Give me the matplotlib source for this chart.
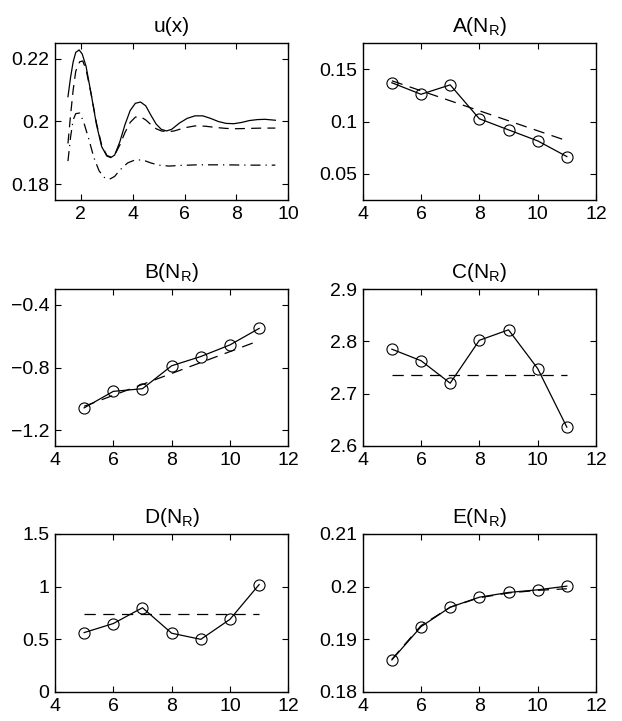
import matplotlib.pyplot as plt

plt.rcParams["font.family"] = ["Liberation Sans", "DejaVu Sans"]
plt.rcParams["mathtext.fontset"] = "custom"
plt.rcParams["mathtext.rm"] = "Liberation Sans"
plt.rcParams["font.size"] = 14

# u(x) curves
ux_solid_x = [1.5, 1.6, 1.7, 1.8, 1.93, 2.05, 2.2, 2.4, 2.6, 2.8, 3.0, 3.15, 3.3, 3.5,
              3.7, 3.9, 4.1, 4.3, 4.5, 4.7, 4.9, 5.1, 5.3, 5.5, 5.8, 6.1, 6.4, 6.7,
              7.0, 7.3, 7.6, 7.9, 8.2, 8.5, 8.8, 9.1, 9.5]
ux_solid_y = [0.2079, 0.2140, 0.2190, 0.2220, 0.2228, 0.2215, 0.2175, 0.2085, 0.1990,
              0.1920, 0.1890, 0.1885, 0.1893, 0.1935, 0.1990, 0.2035, 0.2058, 0.2062,
              0.2050, 0.2020, 0.1992, 0.1975, 0.1970, 0.1975, 0.1995, 0.2010, 0.2018,
              0.2018, 0.2010, 0.2000, 0.1994, 0.1993, 0.1997, 0.2003, 0.2006, 0.2007,
              0.2004]
ux_dash_x = [1.5, 1.6, 1.7, 1.8, 1.95, 2.07, 2.2, 2.4, 2.6, 2.8, 3.0, 3.15, 3.3, 3.5,
             3.7, 3.9, 4.1, 4.3, 4.5, 4.7, 4.9, 5.1, 5.35, 5.6, 6.0, 6.4, 6.8, 7.2,
             7.6, 8.0, 8.5, 9.0, 9.5]
ux_dash_y = [0.1930, 0.2020, 0.2100, 0.2160, 0.2190, 0.2193, 0.2165, 0.2085, 0.1995,
             0.1925, 0.1892, 0.1887, 0.1893, 0.1925, 0.1965, 0.1997, 0.2014, 0.2015,
             0.2005, 0.1990, 0.1977, 0.1970, 0.1967, 0.1970, 0.1980, 0.1986, 0.1985,
             0.1981, 0.1978, 0.1977, 0.1978, 0.1979, 0.1979]
ux_dashdot_x = [1.5, 1.6, 1.7, 1.8, 1.95, 2.1, 2.3, 2.5, 2.7, 2.9, 3.1, 3.3, 3.5, 3.8,
                4.1, 4.4, 4.7, 5.0, 5.4, 5.8, 6.5, 7.5, 8.5, 9.5]
ux_dashdot_y = [0.1874, 0.1950, 0.2005, 0.2025, 0.2027, 0.2000, 0.1945, 0.1885, 0.1843,
                0.1822, 0.1816, 0.1825, 0.1845, 0.1868, 0.1878, 0.1877, 0.1868, 0.1861,
                0.1858, 0.1860, 0.1862, 0.1862, 0.1861, 0.1861]

# coefficients vs N_R
nr = [5, 6, 7, 8, 9, 10, 11]
A_vals = [0.137, 0.126, 0.135, 0.1026, 0.092, 0.0815, 0.0665]
B_vals = [-1.057, -0.952, -0.935, -0.789, -0.73, -0.656, -0.551]
C_vals = [2.785, 2.763, 2.72, 2.802, 2.822, 2.748, 2.636]
D_vals = [0.564, 0.65, 0.8, 0.558, 0.5, 0.69, 1.02]
E_vals = [0.1861, 0.1924, 0.1961, 0.198, 0.1989, 0.1994, 0.2001]

# fitted (dashed) curves
fit_x = [5, 11]
A_fit = [0.1389, 0.0816]
B_fit = [-1.047, -0.629]
C_fit = [2.736, 2.736]
D_fit = [0.738, 0.738]
E_fit = [0.1862, 0.1926, 0.1961, 0.1979, 0.1988, 0.1993, 0.1996]


def style(ax, xlim, ylim, xticks, yticks, ylabels, title):
    ax.set_xlim(xlim)
    ax.set_ylim(ylim)
    ax.set_xticks(xticks)
    ax.set_xticklabels([str(t) for t in xticks])
    ax.set_yticks(yticks)
    ax.set_yticklabels(ylabels)
    ax.tick_params(direction="in", top=True, right=True, length=4, width=0.8,
                   labelsize=14, pad=4)
    for s in ax.spines.values():
        s.set_linewidth(1.0)
    ax.set_title(title, fontsize=15, pad=8)


fig = plt.figure(figsize=(6.22, 7.21), dpi=100)
W, H = 622, 721


def make_axes(x0, y0, x1, y1):
    return fig.add_axes([x0 / W, 1 - y1 / H, (x1 - x0) / W, (y1 - y0) / H])


ax_u = make_axes(55, 43, 288.3, 200)
ax_a = make_axes(362.7, 43, 596, 200)
ax_b = make_axes(55, 289, 288.3, 446)
ax_c = make_axes(362.7, 289, 596, 446)
ax_d = make_axes(55, 534, 288.3, 692)
ax_e = make_axes(362.7, 534, 596, 692)

lw = 0.9
ax_u.plot(ux_solid_x, ux_solid_y, "k-", lw=lw)
ax_u.plot(ux_dash_x, ux_dash_y, color="k", lw=lw, ls=(0, (8, 5)))
ax_u.plot(ux_dashdot_x, ux_dashdot_y, color="k", lw=lw, ls=(0, (8, 4, 1, 4)))
style(ax_u, (1, 10), (0.175, 0.225), [2, 4, 6, 8, 10], [0.18, 0.2, 0.22],
      ["0.18", "0.2", "0.22"], "u(x)")

mk = dict(marker="o", ms=8, mfc="none", mec="k", mew=0.8, color="k", lw=lw)
dash = dict(color="k", lw=lw, ls=(0, (9, 6)))

ax_a.plot(nr, A_vals, **mk)
ax_a.plot(fit_x, A_fit, **dash)
style(ax_a, (4, 12), (0.025, 0.175), [4, 6, 8, 10, 12], [0.05, 0.1, 0.15],
      ["0.05", "0.1", "0.15"], r"$\mathregular{A(N_R)}$")

ax_b.plot(nr, B_vals, **mk)
ax_b.plot(fit_x, B_fit, **dash)
style(ax_b, (4, 12), (-1.3, -0.3), [4, 6, 8, 10, 12], [-1.2, -0.8, -0.4],
      ["\u22121.2", "\u22120.8", "\u22120.4"], r"$\mathregular{B(N_R)}$")

ax_c.plot(nr, C_vals, **mk)
ax_c.plot(fit_x, C_fit, **dash)
style(ax_c, (4, 12), (2.6, 2.9), [4, 6, 8, 10, 12], [2.6, 2.7, 2.8, 2.9],
      ["2.6", "2.7", "2.8", "2.9"], r"$\mathregular{C(N_R)}$")

ax_d.plot(nr, D_vals, **mk)
ax_d.plot(fit_x, D_fit, **dash)
style(ax_d, (4, 12), (0, 1.5), [4, 6, 8, 10, 12], [0, 0.5, 1, 1.5],
      ["0", "0.5", "1", "1.5"], r"$\mathregular{D(N_R)}$")

ax_e.plot(nr, E_vals, **mk)
ax_e.plot(nr, E_fit, **dash)
style(ax_e, (4, 12), (0.18, 0.21), [4, 6, 8, 10, 12], [0.18, 0.19, 0.2, 0.21],
      ["0.18", "0.19", "0.2", "0.21"], r"$\mathregular{E(N_R)}$")

fig.savefig("out.png", dpi=100)
